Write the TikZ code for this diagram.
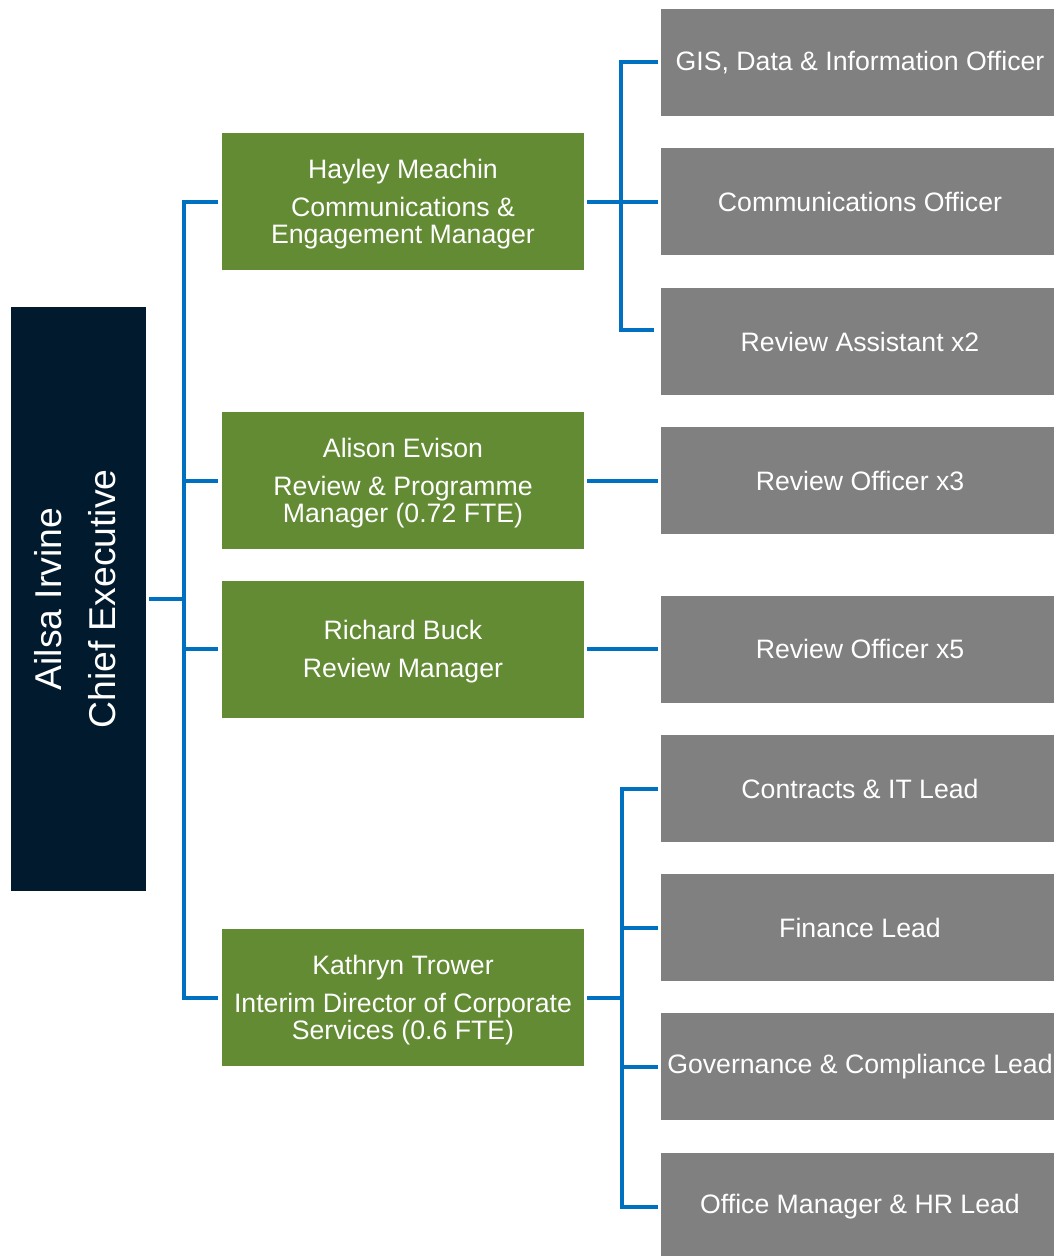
\documentclass[tikz,border=0pt]{standalone}
\usepackage{fontspec}
\setmainfont{Liberation Sans}
\usepackage{tikz}
\usetikzlibrary{calc}

\definecolor{ceonavy}{HTML}{011A2E}
\definecolor{mgrgreen}{HTML}{628B33}
\definecolor{staffgray}{HTML}{808080}
\definecolor{linkblue}{HTML}{0070C0}

\newcommand{\boxfont}{\fontsize{20}{20.25}\selectfont}
\newcommand{\ceofont}{\fontsize{28}{40.5}\selectfont}
\newcommand{\toplift}{\rule{0pt}{19pt}}

\tikzset{
  ceobox/.style = {fill=ceonavy, minimum width=101.25pt, minimum height=438pt, inner sep=0pt},
  ceotext/.style = {rotate=90, text=white, align=center, font=\ceofont, inner sep=0pt},
  mgrbox/.style = {fill=mgrgreen, text=white, align=center, font=\boxfont,
                   minimum width=271.5pt, minimum height=102.75pt, inner sep=0pt},
  staffbox/.style = {fill=staffgray, text=white, font=\boxfont,
                     minimum width=298.5pt, minimum height=80.25pt, inner sep=0pt},
  link/.style = {draw=linkblue, line width=3pt},
}

\begin{document}
\begin{tikzpicture}[x=0.75pt, y=-0.75pt]
  \useasboundingbox (0,0) rectangle (1053,1256);

  % chief executive
  \node[ceobox] (ceo) at (78.5,599) {};
  \node[ceotext] (ceolabel) at ([xshift=-2.5pt]ceo.center) {Ailsa Irvine\\Chief Executive};

  % managers
  \node[mgrbox] (hayley) at (403,201.5) {\toplift Hayley Meachin\\[8.25pt]Communications \&\\Engagement Manager};
  \node[mgrbox] (alison) at (403,480.5) {\toplift Alison Evison\\[8.25pt]Review \& Programme\\Manager (0.72 FTE)};
  \node[mgrbox] (richard) at (403,649) {\toplift Richard Buck\\[8.25pt]Review Manager};
  \node[mgrbox] (kathryn) at (403,997.5) {\toplift Kathryn Trower\\[8.25pt]Interim Director of Corporate\\Services (0.6 FTE)};

  % staff (boxes run off the right edge)
  \node[staffbox] (gis) at (860,62.5) {GIS, Data \& Information Officer};
  \node[staffbox] (comms) at (860,201.5) {Communications Officer};
  \node[staffbox] (asst) at (860,341.5) {Review Assistant x2};
  \node[staffbox] (rothree) at (860,480.5) {Review Officer x3};
  \node[staffbox] (rofive) at (860,649) {Review Officer x5};
  \node[staffbox] (contracts) at (860,788.5) {Contracts \& IT Lead};
  \node[staffbox] (finance) at (860,927.5) {Finance Lead};
  \node[staffbox] (governance) at (860,1066.5) {Governance \& Compliance Lead};
  \node[staffbox] (office) at (860,1206.5) {Office Manager \& HR Lead};

  % connectors
  \coordinate (ceobus) at (183.5,599);
  \coordinate (hbus) at (621,201.5);
  \coordinate (kbus) at (622,997.5);
  \coordinate (asstend) at ([xshift=-5pt, yshift=8.6pt]asst.west);

  \draw[link] ([xshift=2.25pt]ceo.east) -- (ceobus);
  \draw[link] ([xshift=-3pt]hayley.west) -- (ceobus |- hayley.west)
    -- (ceobus |- kathryn.west) -- ([xshift=-3pt]kathryn.west);
  \draw[link] (ceobus |- alison.west) -- ([xshift=-3pt]alison.west);
  \draw[link] (ceobus |- richard.west) -- ([xshift=-3pt]richard.west);

  \draw[link] ([xshift=2.25pt]hayley.east) -- ([xshift=-2.25pt]comms.west);
  \draw[link] ([xshift=-2.25pt]gis.west) -- (hbus |- gis.west)
    -- (hbus |- asstend) -- (asstend);

  \draw[link] ([xshift=2.25pt]alison.east) -- ([xshift=-2.25pt]rothree.west);
  \draw[link] ([xshift=2.25pt]richard.east) -- ([xshift=-2.25pt]rofive.west);

  \draw[link] ([xshift=2.25pt]kathryn.east) -- (kbus);
  \draw[link] ([xshift=-2.25pt]contracts.west) -- (kbus |- contracts.west)
    -- (kbus |- office.west) -- ([xshift=-2.25pt]office.west);
  \draw[link] (kbus |- finance.west) -- ([xshift=-2.25pt]finance.west);
  \draw[link] (kbus |- governance.west) -- ([xshift=-2.25pt]governance.west);
\end{tikzpicture}
\end{document}
